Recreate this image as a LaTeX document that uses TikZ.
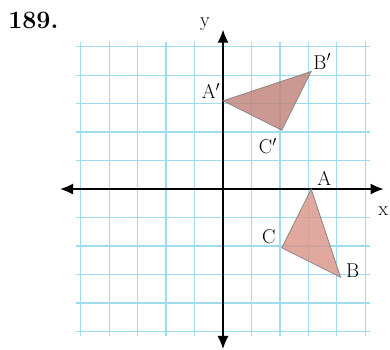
\documentclass[tikz,border=0pt]{standalone}
\usepackage{fontspec}
\usetikzlibrary{arrows.meta}
\definecolor{gridblue}{RGB}{159,220,239}
\definecolor{imgfill}{RGB}{190,128,118}
\definecolor{prefill}{RGB}{218,148,134}
\begin{document}
\begin{tikzpicture}[x=29.4pt,y=29.4pt,every node/.style={font=\fontsize{20}{24}\selectfont,inner sep=0pt}]
\useasboundingbox (-7.585,-5.442) rectangle (5.68,6.43);
% Grid
\draw[gridblue,line width=1.3pt] (-5,-5) grid (5,5);
% Problem number
\node[font=\fontsize{25}{30}\selectfont\bfseries] (num) at (-6.45,5.75) {189.};
% Axes
\draw[{Latex[length=13pt,width=11pt]}-{Latex[length=13pt,width=11pt]},line width=1.2pt] (-5.54,0) -- (5.46,0);
\draw[{Latex[length=13pt,width=11pt]}-{Latex[length=13pt,width=11pt]},line width=1.2pt] (0,-5.44) -- (0,5.42);
\node (ylab) at (-0.61,5.62) {y};
\node (xlab) at (5.45,-0.75) {x};
% Triangle ABC and its image
\coordinate (A) at (3,0);
\coordinate (B) at (4,-3);
\coordinate (C) at (2,-2);
\coordinate (A') at (0,3);
\coordinate (B') at (3,4);
\coordinate (C') at (2,2);
\filldraw[fill=prefill,fill opacity=0.8,draw=gray,line width=0.7pt] (A) -- (B) -- (C) -- cycle;
\filldraw[fill=imgfill,fill opacity=0.8,draw=gray,line width=0.7pt] (A') -- (B') -- (C') -- cycle;
\node (Alab) at ([xshift=13pt,yshift=11pt]A) {A};
\node (Blab) at ([xshift=12pt,yshift=7pt]B) {B};
\node (Clab) at ([xshift=-13pt,yshift=11pt]C) {C};
\node (A'lab) at ([xshift=-12pt,yshift=10pt]A') {A$'$};
\node (B'lab) at ([xshift=11pt,yshift=10pt]B') {B$'$};
\node (C'lab) at ([xshift=-14pt,yshift=-16pt]C') {C$'$};
\end{tikzpicture}
\end{document}
